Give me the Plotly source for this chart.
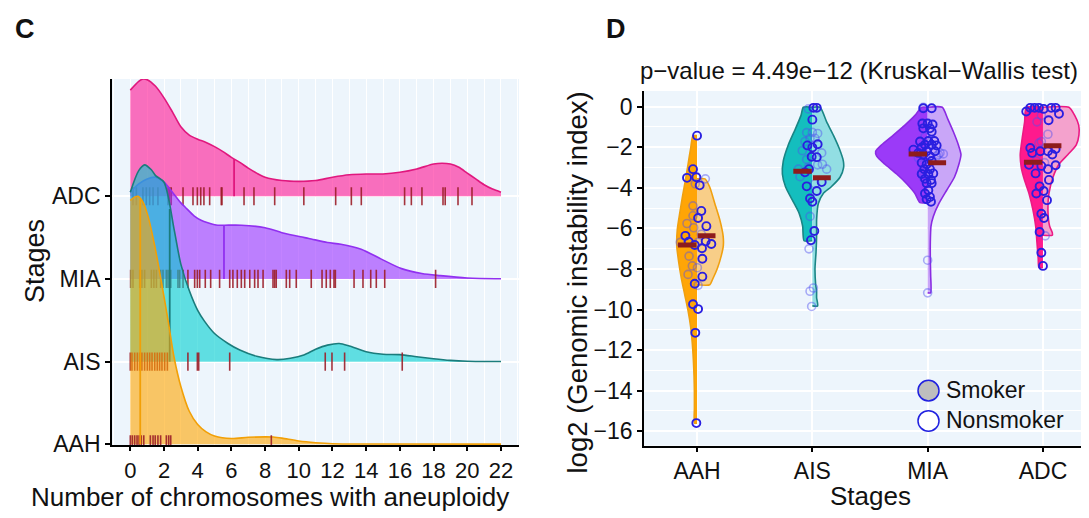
import numpy as np
import plotly.graph_objects as go

FONT = "Liberation Sans, Arial, Helvetica, sans-serif"
W, H = 1089, 518

stages = ["AAH", "AIS", "MIA", "ADC"]

# ---------------- Panel C : ridgelines (heights in units of ridge spacing) ----------------
ridge_x = {
    "ADC": [0, 0.5, 0.75, 1, 1.5, 2, 2.5, 3, 3.5, 4, 4.5, 5, 5.5, 6, 6.5, 7, 7.5, 8, 9, 10, 11,
            12, 13, 14, 15, 16, 17, 18, 18.5, 19, 19.5, 20, 20.5, 21, 21.5, 22],
    "MIA": [0, 0.5, 1, 1.5, 2, 2.5, 3, 3.25, 3.8, 4.2, 4.6, 5.2, 5.6, 6.6, 8, 9, 10.1, 10.6, 11.7,
            12.5, 13.7, 14.9, 16.1, 17.3, 18.4, 20, 22],
    "AIS": [0, 0.5, 0.85, 1.25, 1.5, 2, 2.6, 3, 3.5, 4, 4.4, 5, 5.8, 6.5, 7.5, 8.7, 9.5, 10.3, 11,
            11.7, 12.4, 13, 14, 15, 16, 17, 18, 19, 20, 22],
    "AAH": [0, 0.25, 0.46, 0.75, 1.05, 1.45, 1.84, 2.24, 2.6, 3, 3.5, 4, 4.5, 5, 6, 7, 8, 8.5, 9,
            10, 11, 12, 14, 22],
}
ridge_h = {
    "ADC": [1.284, 1.39, 1.418, 1.41, 1.33, 1.19, 1.02, 0.84, 0.74, 0.69, 0.65, 0.60, 0.54, 0.47,
            0.41, 0.34, 0.28, 0.23, 0.19, 0.18, 0.19, 0.23, 0.26, 0.27, 0.27, 0.29, 0.33, 0.39,
            0.40, 0.39, 0.35, 0.28, 0.21, 0.14, 0.087, 0.05],
    "MIA": [1.05, 1.15, 1.21, 1.23, 1.17, 1.05, 0.92, 0.87, 0.76, 0.71, 0.68, 0.65, 0.65, 0.65,
            0.62, 0.56, 0.51, 0.49, 0.44, 0.42, 0.36, 0.24, 0.125, 0.066, 0.04, 0.012, 0.003],
    "AIS": [2.05, 2.31, 2.38, 2.32, 2.25, 2.17, 1.6, 1.18, 0.86, 0.62, 0.49, 0.34, 0.22, 0.14,
            0.065, 0.025, 0.04, 0.08, 0.15, 0.20, 0.22, 0.19, 0.12, 0.09, 0.085, 0.06, 0.035,
            0.015, 0.005, 0.002],
    "AAH": [2.95, 2.99, 3.0, 2.93, 2.76, 2.4, 1.97, 1.5, 1.05, 0.7, 0.4, 0.24, 0.15, 0.1, 0.07,
            0.085, 0.09, 0.088, 0.075, 0.04, 0.02, 0.008, 0.004, 0.003],
}
ridge_median = {"ADC": 6.16, "MIA": 5.56, "AIS": 2.34, "AAH": 0.59}
rug_x = {
    "ADC": [0.16, 0.36, 0.75, 0.95, 1.15, 1.35, 1.64, 2.24, 2.34, 2.43, 3.13, 3.72, 3.98, 4.18,
            4.37, 4.71, 5.4, 5.44, 6.75, 7.34, 8.57, 10.3, 12.19, 13.12, 13.71, 16.28, 16.68,
            17.31, 18.56, 18.69, 19.45, 20.28],
    "MIA": [0.02, 0.16, 0.56, 0.69, 0.85, 1.25, 1.4, 1.55, 1.8, 1.94, 2.14, 2.24, 2.4, 2.83, 2.93,
            3.13, 3.42, 3.82, 3.98, 4.12, 4.45, 4.77, 5.3, 5.9, 6.09, 6.35, 6.59, 6.79, 7.09, 7.38,
            7.58, 7.88, 8.47, 8.57, 8.66, 9.26, 9.46, 9.85, 10.74, 11.38, 11.63, 11.87, 12.09,
            12.17, 13.28, 13.81, 14.27, 14.6, 15.1, 18.12],
    "AIS": [0.0, 0.1, 0.26, 0.42, 0.56, 0.69, 0.85, 1.01, 1.15, 1.29, 1.45, 1.6, 1.74, 1.88, 2.04,
            2.2, 3.42, 3.98, 4.06, 5.9, 11.57, 11.97, 12.72, 16.14],
    "AAH": [0.0, 0.12, 0.26, 0.4, 0.52, 0.65, 0.8, 1.19, 1.35, 1.48, 1.64, 1.8, 2.14, 2.28, 2.4,
            8.37],
}

# ---------------- Panel D : split violins (half widths in category units) ----------------
smoker_vy = {
    "AAH": [-1.43, -2.04, -2.84, -3.64, -4.45, -5.25, -6.05, -6.85, -7.66, -8.46, -9.26, -10.06,
            -10.87, -11.67, -12.47, -13.27, -14.07, -14.88, -15.6],
    "AIS": [-0.03, -0.43, -1.07, -1.88, -2.68, -3.32, -3.96, -4.61, -5.25, -5.89, -6.61],
    "MIA": [-0.03, -0.43, -0.91, -1.40, -1.88, -2.2, -2.44, -2.84, -3.32, -3.80, -4.28, -4.73],
    "ADC": [-0.03, -0.75, -1.56, -2.36, -3.0, -3.64, -4.28, -5.09, -5.89, -6.69, -7.49, -7.93],
}
smoker_vw = {
    "AAH": [0.035, 0.055, 0.078, 0.101, 0.127, 0.150, 0.171, 0.176, 0.159, 0.136, 0.107, 0.078,
            0.055, 0.041, 0.032, 0.026, 0.023, 0.023, 0.022],
    "AIS": [0.078, 0.098, 0.145, 0.208, 0.252, 0.260, 0.232, 0.173, 0.115, 0.084, 0.072],
    "MIA": [0.052, 0.110, 0.197, 0.297, 0.399, 0.451, 0.442, 0.370, 0.269, 0.182, 0.110, 0.067],
    "ADC": [0.145, 0.159, 0.180, 0.197, 0.188, 0.159, 0.121, 0.087, 0.063, 0.052, 0.041, 0.035],
}
nonsmoker_vy = {
    "AAH": [-3.56, -3.96, -4.77, -5.57, -6.37, -6.85, -7.33, -7.98, -8.46, -8.78],
    "AIS": [-0.03, -0.75, -1.40, -2.04, -2.68, -3.0, -3.48, -3.96, -4.28, -4.77, -5.57, -6.37,
            -7.17, -7.98, -8.78, -9.1, -9.42, -9.82],
    "MIA": [-0.03, -0.59, -1.24, -1.88, -2.36, -2.84, -3.48, -4.12, -4.77, -5.41, -5.89, -6.69,
            -7.49, -8.30, -9.18],
    "ADC": [-0.03, -0.43, -0.91, -1.40, -1.88, -2.36, -2.84, -3.48, -4.28, -5.09, -5.89, -6.21,
            -6.34],
}
nonsmoker_vw = {
    "AAH": [0.069, 0.110, 0.154, 0.197, 0.226, 0.228, 0.211, 0.176, 0.139, 0.110],
    "AIS": [0.067, 0.124, 0.182, 0.232, 0.269, 0.271, 0.240, 0.162, 0.095, 0.052, 0.037, 0.037,
            0.032, 0.023, 0.029, 0.037, 0.037, 0.046],
    "MIA": [0.127, 0.173, 0.223, 0.266, 0.289, 0.271, 0.232, 0.165, 0.098, 0.049, 0.029, 0.023,
            0.023, 0.026, 0.026],
    "ADC": [0.225, 0.275, 0.310, 0.312, 0.289, 0.217, 0.139, 0.087, 0.052, 0.043, 0.058, 0.081,
            0.081],
}
median_smoker = {"AAH": -6.82, "AIS": -3.19, "MIA": -2.33, "ADC": -2.74}
median_nonsmoker = {"AAH": -6.37, "AIS": -3.51, "MIA": -2.76, "ADC": -1.93}

# jittered points: (offset from category centre, log2 GII)
pts_solid_dx = {
    "AAH": [0, -0.035, -0.087, -0.006, 0.023, 0.037, 0.009, 0.081, -0.101, -0.072, -0.020, 0.075,
            0.124, 0.043, 0.046, 0.046, -0.020, -0.035, 0.009, -0.015, -0.006],
    "AIS": [0.009, 0.038, 0, -0.043, 0, 0.046, -0.006, 0.038, -0.064, -0.029, 0.081, -0.049, 0.038,
            -0.020, 0, 0.017, -0.012],
    "MIA": [-0.038, 0.035, -0.046, 0, 0.043, -0.038, 0.020, 0.035, -0.066, 0.006, 0.058, -0.023,
            0.035, 0.078, -0.052, -0.124, -0.081, -0.009, 0.064, -0.038, 0.020, -0.052, -0.009,
            0.035, -0.029, 0.020, 0.049, -0.052, 0.006, -0.023, 0.029, -0.009, 0.035, 0.006,
            -0.023, 0.020, -0.009, 0.029],
    "ADC": [-0.145, -0.110, -0.072, -0.035, 0.006, 0.072, 0.110, 0.139, 0.049, -0.110, -0.093,
            -0.023, 0.043, 0.081, 0.110, -0.121, -0.014, 0.043, 0.110, -0.064, 0.052, -0.029,
            0.006, -0.058, 0.035, -0.014, 0.009, -0.029, -0.014, 0],
}
pts_solid_y = {
    "AAH": [-1.43, -3.08, -3.51, -3.48, -3.88, -5.14, -5.49, -5.89, -6.37, -6.66, -6.82, -6.64,
            -6.77, -6.98, -7.50, -8.38, -8.73, -9.74, -9.98, -11.15, -15.6],
    "AIS": [-0.06, -0.06, -0.64, -1.91, -2.01, -1.85, -2.47, -2.49, -3.24, -3.08, -3.72, -3.93,
            -4.16, -4.53, -4.69, -6.13, -6.58],
    "MIA": [-0.08, -0.08, -0.83, -0.83, -0.88, -1.07, -1.07, -1.24, -1.72, -1.69, -1.69, -1.88,
            -1.88, -1.91, -2.01, -2.12, -2.28, -2.20, -2.20, -2.36, -2.44, -2.76, -2.84, -2.68,
            -3.08, -3.08, -3.29, -3.32, -3.32, -3.56, -3.61, -3.77, -3.77, -4.12, -4.28, -4.45,
            -4.57, -4.69],
    "ADC": [-0.24, -0.06, -0.06, -0.06, -0.11, -0.06, -0.06, -0.35, -0.67, -2.04, -2.28, -2.20,
            -2.20, -2.36, -2.09, -2.87, -2.92, -3.08, -2.89, -3.29, -3.61, -3.93, -4.16, -4.28,
            -4.61, -5.28, -5.49, -6.18, -7.20, -7.85],
}
pts_faint_dx = {
    "AAH": [0.072, -0.015, -0.035, -0.035, -0.087, -0.029, 0.037, -0.145, 0.009, -0.069, -0.041,
            0.003, -0.078, 0.009],
    "AIS": [-0.035, 0, -0.049, 0.046, -0.020, 0.023, -0.064, -0.087, 0.081, -0.049, 0.087, 0.046,
            0.124, -0.121, -0.035, -0.107, 0.023, -0.020, -0.029, -0.020, 0.009, -0.006],
    "MIA": [-0.038, -0.023, 0.006, 0.107, 0.136, 0.078, 0.093, -0.052, -0.038, -0.081, -0.009, 0,
            0],
    "ADC": [-0.052, -0.014, 0.043, -0.035, 0.014, 0.020, -0.058, -0.014],
}
pts_faint_y = {
    "AAH": [-3.56, -3.80, -4.89, -5.38, -5.76, -5.97, -6.29, -6.69, -6.69, -7.37, -7.85, -7.94,
            -8.27, -8.81],
    "AIS": [-0.11, -1.27, -1.28, -1.32, -1.56, -1.56, -1.72, -2.17, -2.28, -2.60, -2.84, -2.87,
            -3.08, -3.08, -3.0, -3.45, -3.80, -5.41, -7.01, -9.10, -8.94, -9.85],
    "MIA": [-0.03, -1.48, -2.04, -2.28, -2.33, -2.44, -2.36, -3.24, -3.48, -2.52, -2.60, -7.57,
            -9.18],
    "ADC": [-0.75, -0.43, -1.36, -1.80, -2.76, -6.37, -2.68, -1.72],
}

y_ticks_d = [0, -2, -4, -6, -8, -10, -12, -14, -16]
x_ticks_c = list(range(0, 23, 2))

# ---------------- styles ----------------
BG = "#EDF5FC"
ridge_fill = {"ADC": "rgba(255,20,147,0.6)", "MIA": "rgba(155,48,255,0.6)",
              "AIS": "rgba(0,206,209,0.6)", "AAH": "rgba(255,165,0,0.6)"}
ridge_line = {"ADC": "#E0187E", "MIA": "#9130F0", "AIS": "#1B7C7C", "AAH": "#F2A007"}
RUG = "rgba(155,30,40,0.9)"
vio_dark = {"AAH": "#FFA506", "AIS": "#14BEBE", "MIA": "#9B3AF8", "ADC": "#FF1A8D"}
vio_light = {"AAH": "#F8CE88", "AIS": "#92DEE3", "MIA": "#C9A6F8", "ADC": "#F4A2CD"}
vio_edge = {"AAH": "#F0A010", "AIS": "#1A8585", "MIA": "#8A2BE2", "ADC": "#EC1A84"}
PT = "#2A1FE0"
PT_FAINT = "rgba(80,80,240,0.45)"
MED = "#8E1C1C"

ridge_pos = {s: i + 1 for i, s in enumerate(stages)}
cat_pos = {s: i for i, s in enumerate(stages)}

fig = go.Figure()

# ---- panel C traces (top ridge first) ----
for s in ["ADC", "MIA", "AIS", "AAH"]:
    b = ridge_pos[s]
    xs = np.array(ridge_x[s], dtype=float)
    hs = np.array(ridge_h[s], dtype=float)
    fig.add_trace(go.Scatter(x=[xs[0], xs[-1]], y=[b, b], mode="lines", line=dict(width=0),
                             hoverinfo="skip", showlegend=False, xaxis="x", yaxis="y"))
    fig.add_trace(go.Scatter(x=xs, y=b + hs, mode="lines",
                             line=dict(color=ridge_line[s], width=1.6, shape="spline", smoothing=0.8),
                             fill="tonexty", fillcolor=ridge_fill[s], showlegend=False,
                             xaxis="x", yaxis="y"))
    fig.add_trace(go.Scatter(x=rug_x[s], y=[b] * len(rug_x[s]), mode="markers",
                             marker=dict(symbol="line-ns", size=13, color=RUG,
                                         line=dict(width=1.6, color=RUG)),
                             showlegend=False, xaxis="x", yaxis="y"))
    m = ridge_median[s]
    fig.add_trace(go.Scatter(x=[m, m], y=[b, b + float(np.interp(m, xs, hs))], mode="lines",
                             line=dict(color=ridge_line[s], width=1.8), showlegend=False,
                             xaxis="x", yaxis="y"))

# ---- panel D traces ----
for s in stages:
    c = cat_pos[s]
    for vy, vw, sign, col in [(smoker_vy[s], smoker_vw[s], -1, vio_dark[s]),
                              (nonsmoker_vy[s], nonsmoker_vw[s], 1, vio_light[s])]:
        vy = np.array(vy); vw = np.array(vw)
        px = np.concatenate([[c], c + sign * vw, [c]])
        py = np.concatenate([[vy[0]], vy, [vy[-1]]])
        fig.add_trace(go.Scatter(x=px, y=py, mode="lines", fill="toself", fillcolor=col,
                                 line=dict(color=vio_edge[s], width=1.6, shape="spline",
                                           smoothing=0.6),
                                 showlegend=False, xaxis="x2", yaxis="y2"))

for s in stages:
    c = cat_pos[s]
    fig.add_trace(go.Scatter(x=c + np.array(pts_faint_dx[s]), y=pts_faint_y[s], mode="markers",
                             marker=dict(symbol="circle-open", size=8, color=PT_FAINT,
                                         line=dict(width=1.6)),
                             showlegend=False, xaxis="x2", yaxis="y2"))
    fig.add_trace(go.Scatter(x=c + np.array(pts_solid_dx[s]), y=pts_solid_y[s], mode="markers",
                             marker=dict(symbol="circle-open", size=8, color=PT,
                                         line=dict(width=1.9)),
                             showlegend=False, xaxis="x2", yaxis="y2"))

for s in stages:
    c = cat_pos[s]
    for med, a, b2 in [(median_smoker[s], -0.165, -0.005), (median_nonsmoker[s], 0.005, 0.16)]:
        fig.add_trace(go.Scatter(x=[c + a, c + b2], y=[med, med], mode="lines",
                                 line=dict(color=MED, width=5), showlegend=False,
                                 xaxis="x2", yaxis="y2"))

# ---------------- layout ----------------
def px_x(p):
    return p / W

def px_y(p):
    return 1 - p / H

def axis_common(fs, tl=5):
    return dict(showline=True, linecolor="black", linewidth=1.8, ticks="outside", ticklen=tl,
                tickwidth=1.5, tickcolor="black", zeroline=False, gridcolor="white",
                tickfont=dict(size=fs, color="#111", family=FONT))

fig.update_layout(
    width=W, height=H, margin=dict(l=0, r=0, t=0, b=0),
    paper_bgcolor="white", plot_bgcolor=BG, font=dict(family=FONT, color="#111"),
    showlegend=False,
    xaxis=dict(domain=[px_x(104), px_x(511)], range=[-1.086, 23.07], tickvals=x_ticks_c,
               gridwidth=1.3, minor=dict(dtick=1, showgrid=True, gridcolor="white", gridwidth=0.7),
               anchor="y", **axis_common(22, 4)),
    yaxis=dict(domain=[px_y(447.7), px_y(72.7)], range=[0.988, 5.418], tickvals=[1, 2, 3, 4],
               ticktext=stages, gridwidth=2, anchor="x", **axis_common(23)),
    xaxis2=dict(domain=[px_x(636), px_x(1088)], range=[-0.46, 3.46], tickvals=[0, 1, 2, 3],
                ticktext=stages, gridwidth=1.6, anchor="y2", **axis_common(23, 4)),
    yaxis2=dict(domain=[px_y(448), px_y(85)], range=[-16.71, 0.77], tickvals=y_ticks_d,
                ticktext=[("\u2212" + str(-v)) if v < 0 else str(v) for v in y_ticks_d],
                gridwidth=1.6, minor=dict(dtick=1, showgrid=True, gridcolor="white", gridwidth=0.8),
                anchor="x2", **axis_common(23)),
)

ann = []
def add_text(t, x, y, size, xanchor="center", yanchor="middle", angle=0, bold=False):
    ann.append(dict(text=("<b>%s</b>" % t) if bold else t, x=px_x(x), y=px_y(y), xref="paper",
                    yref="paper", xanchor=xanchor, yanchor=yanchor, showarrow=False,
                    textangle=angle, font=dict(size=size, family=FONT, color="#111")))

add_text("C", 5, 21, 27, xanchor="left", bold=True)
add_text("D", 596, 21, 27, xanchor="left", bold=True)
add_text("Stages", 27, 259, 27, angle=-90)
add_text("Number of chromosomes with aneuploidy", 262, 518, 26, yanchor="bottom")
add_text("log2 (Genomic instability index)", 569, 281, 27.5, angle=-90)
add_text("Stages", 862, 517, 26, yanchor="bottom")
add_text("p\u2212value = 4.49e\u221212 (Kruskal\u2212Wallis test)", 851, 64, 24)
add_text("Smoker", 936, 391, 23, xanchor="left")
add_text("Nonsmoker", 936, 422, 23, xanchor="left")
fig.update_layout(annotations=ann)

shapes = []
for cy, fillc in [(391.7, "#BEBEBE"), (422.7, "white")]:
    shapes.append(dict(type="circle", xref="paper", yref="paper", x0=px_x(910), x1=px_x(931),
                       y0=px_y(cy + 10.5), y1=px_y(cy - 10.5), fillcolor=fillc,
                       line=dict(color="#2020E0", width=1.5)))
fig.update_layout(shapes=shapes)

fig.write_html("out.html")
